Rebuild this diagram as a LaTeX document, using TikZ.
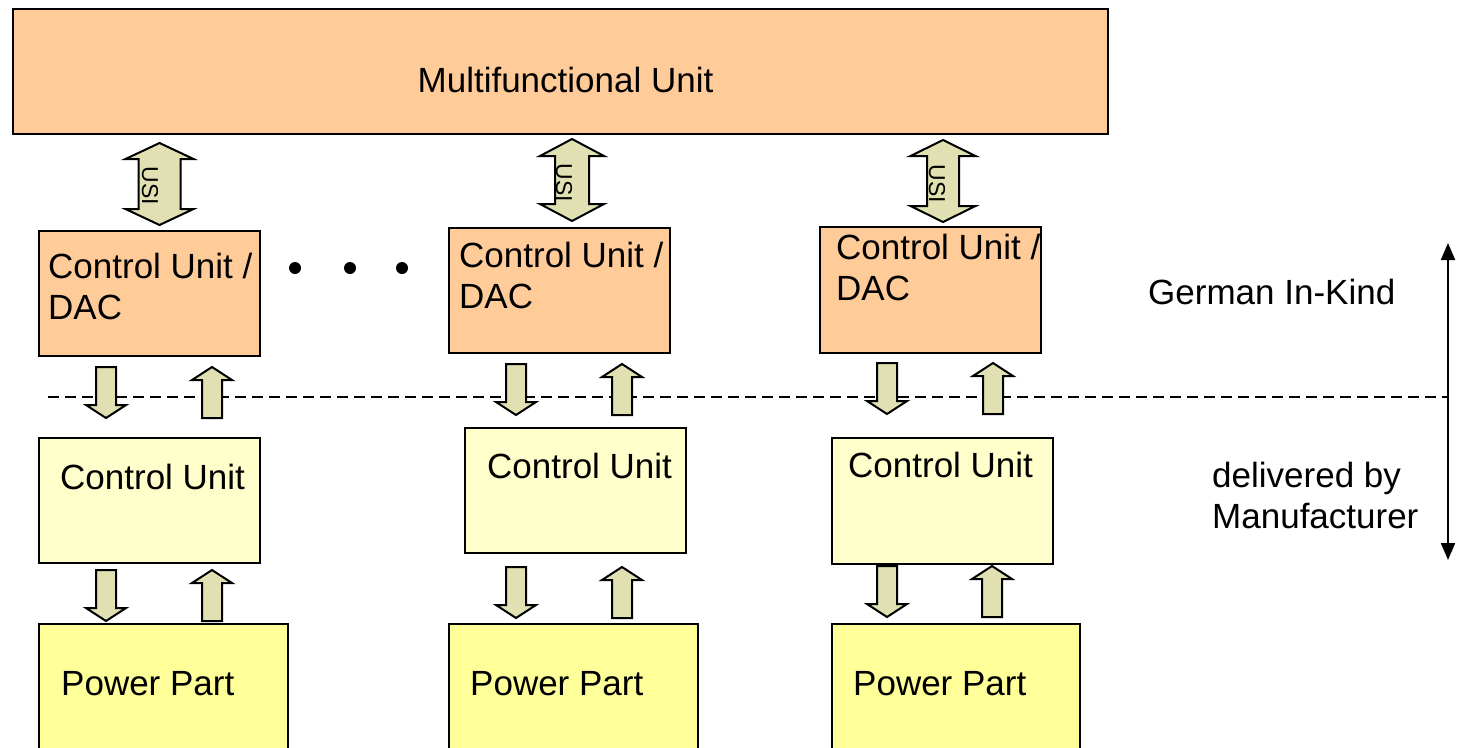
\documentclass[tikz,border=0pt]{standalone}
\usepackage{fontspec}
\setmainfont{Liberation Sans}
\usetikzlibrary{arrows.meta}
\definecolor{peach}{RGB}{255,204,153}
\definecolor{olivefill}{RGB}{224,224,178}
\definecolor{paleyellow}{RGB}{255,255,204}
\definecolor{yellowfill}{RGB}{255,255,153}
\tikzset{
  box/.style={draw=black, line width=2pt, rectangle, inner sep=0pt, anchor=north west},
  dacbox/.style={box, fill=peach},
  cubox/.style={box, fill=paleyellow},
  ppbox/.style={box, fill=yellowfill},
  lbl/.style={inner sep=0pt, anchor=base west, align=left, font=\fontsize{35}{41}\selectfont},
  usilbl/.style={inner sep=0pt, rotate=-90, font=\fontsize{23}{26}\selectfont},
  blockarrow/.style={draw=black, line width=2pt, fill=olivefill, line join=miter},
  dotnode/.style={circle, fill=black, minimum size=12pt, inner sep=0pt},
  pics/downarr/.style={code={\draw[blockarrow] (-10,0) -- (10,0) -- (10,38) -- (20,38) -- (0,51) -- (-20,38) -- (-10,38) -- cycle;}},
  pics/uparr/.style={code={\draw[blockarrow] (0,0) -- (20,13) -- (10,13) -- (10,51) -- (-10,51) -- (-10,13) -- (-20,13) -- cycle;}},
  pics/usiarr/.style n args={3}{code={\draw[blockarrow] (0,0) -- (#2,#3) -- (#1,#3) -- (#1,82-#3) -- (#2,82-#3) -- (0,82) -- (-#2,82-#3) -- (-#1,82-#3) -- (-#1,#3) -- (-#2,#3) -- cycle;}},
  dline/.style={line width=2.5pt, dash pattern=on 11pt off 6pt},
  sidearrow/.style={line width=2pt, {Triangle[length=17pt,width=14pt]}-{Triangle[length=17pt,width=14pt]}}
}
\begin{document}
\begin{tikzpicture}[x=1pt,y=-1pt]
\useasboundingbox (0,0) rectangle (1458,747);
\fill[white] (0,0) rectangle (1458,747);
\clip (0,0) rectangle (1458,747);

% top unit
\node[box, fill=peach, minimum width=1095pt, minimum height=125pt] (mfu) at (12,8) {};
\node[inner sep=0pt, anchor=base, font=\fontsize{35}{41}\selectfont] (mfutxt) at (565.5,92) {Multifunctional Unit};

% USI arrows
\pic (usi1) at (159.5,143) {usiarr={21}{34}{16}};
\pic (usi2) at (572,139) {usiarr={17}{32}{17}};
\pic (usi3) at (943,140) {usiarr={16}{32.5}{16}};
\node[usilbl] (usit1) at (150,186) {USI};
\node[usilbl] (usit2) at (564,183) {USI};
\node[usilbl] (usit3) at (937,184) {USI};

% Control Unit / DAC boxes
\node[dacbox, minimum width=221pt, minimum height=125pt] (dac1) at (38,230) {};
\node[dacbox, minimum width=221pt, minimum height=125pt] (dac2) at (448,227) {};
\node[dacbox, minimum width=221pt, minimum height=126pt] (dac3) at (819,226) {};
\node[lbl] (dact1) at (48,319) {Control Unit /\\DAC};
\node[lbl] (dact2) at (459,308) {Control Unit /\\DAC};
\node[lbl] (dact3) at (836,300) {Control Unit /\\DAC};

% dots
\node[dotnode] (dot1) at (295,268) {};
\node[dotnode] (dot2) at (350,268) {};
\node[dotnode] (dot3) at (402,268) {};

% dashed line and side arrow
\coordinate (dl) at (48,397);
\coordinate (dr) at (1448,397);
\draw[dline] (dl) -- (dr);
\coordinate (sa) at (1448,243);
\coordinate (sb) at (1448,560);
\draw[sidearrow] (sa) -- (sb);

% middle arrows
\pic (m1d) at (106,367) {downarr};
\pic (m1u) at (212,367) {uparr};
\pic (m2d) at (516,364) {downarr};
\pic (m2u) at (622,364) {uparr};
\pic (m3d) at (887,363) {downarr};
\pic (m3u) at (993,363) {uparr};

% Control Unit boxes
\node[cubox, minimum width=221pt, minimum height=125pt] (cu1) at (38,437) {};
\node[cubox, minimum width=221pt, minimum height=125pt] (cu2) at (464,427) {};
\node[cubox, minimum width=221pt, minimum height=126pt] (cu3) at (831,437) {};
\node[lbl] (cut1) at (60,489) {Control Unit};
\node[lbl] (cut2) at (487,478) {Control Unit};
\node[lbl] (cut3) at (848,477) {Control Unit};

% lower arrows
\pic (l1d) at (106,570) {downarr};
\pic (l1u) at (212,570) {uparr};
\pic (l2d) at (516,567) {downarr};
\pic (l2u) at (622,567) {uparr};
\pic (l3d) at (887,566) {downarr};
\pic (l3u) at (992,566) {uparr};

% Power Part boxes
\node[ppbox, minimum width=249pt, minimum height=140pt] (pp1) at (38,623) {};
\node[ppbox, minimum width=249pt, minimum height=140pt] (pp2) at (448,623) {};
\node[ppbox, minimum width=248pt, minimum height=140pt] (pp3) at (831,623) {};
\node[lbl] (ppt1) at (61,695) {Power Part};
\node[lbl] (ppt2) at (470,695) {Power Part};
\node[lbl] (ppt3) at (853,695) {Power Part};

% right-hand labels
\node[lbl] (gik) at (1148,304) {German In-Kind};
\node[lbl] (dbm) at (1212,528) {delivered by\\Manufacturer};
\end{tikzpicture}
\end{document}
